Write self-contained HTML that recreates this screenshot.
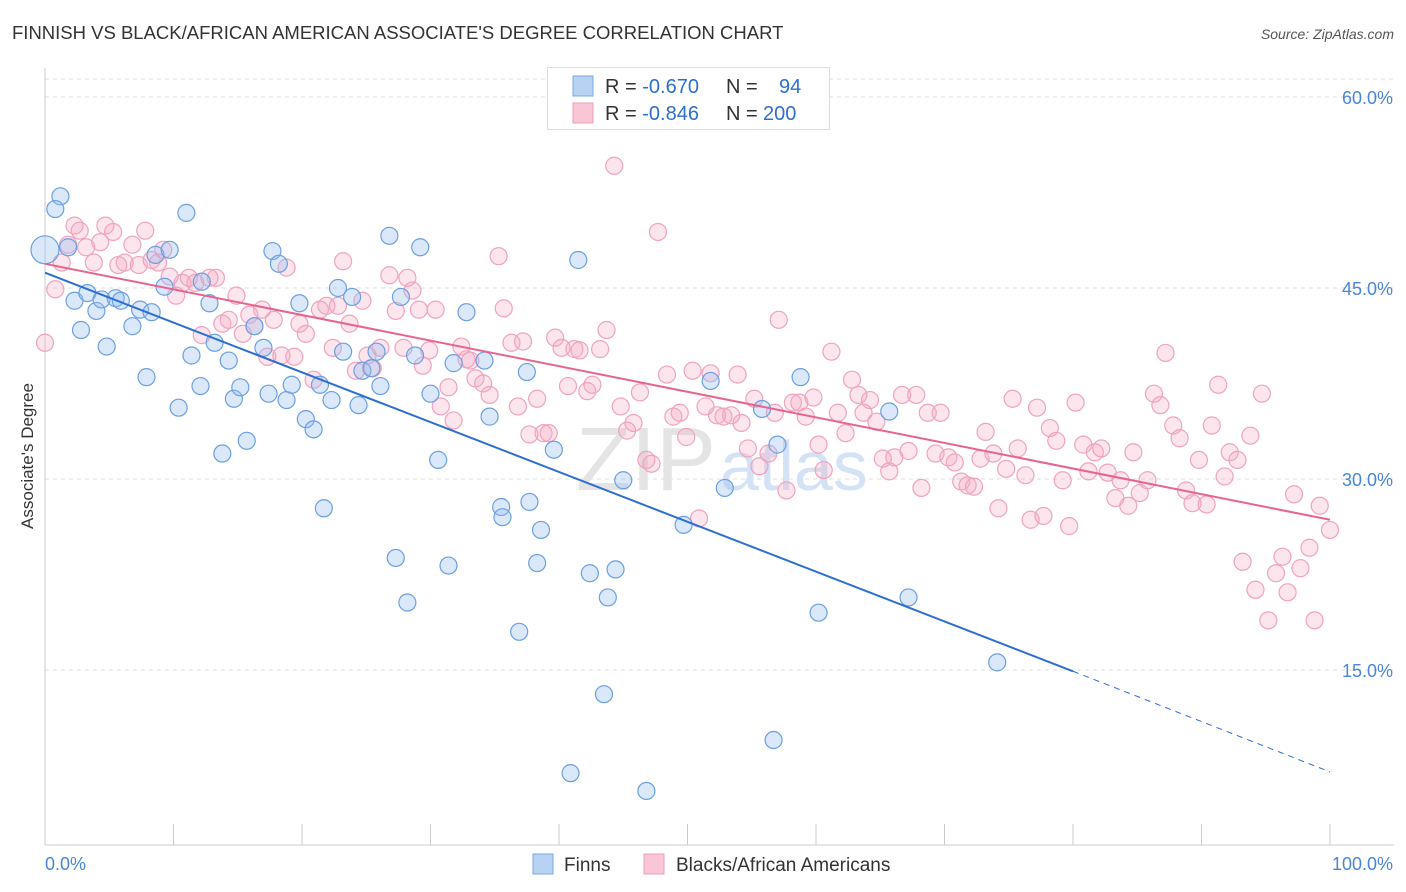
<!DOCTYPE html>
<html><head><meta charset="utf-8">
<style>
body{margin:0;background:#fff;font-family:"Liberation Sans",sans-serif;}
#wrap{position:relative;width:1406px;height:892px;overflow:hidden;}
svg text{font-family:"Liberation Sans",sans-serif;}
</style></head>
<body>
<div id="wrap">
<svg id="chart" width="1406" height="892" xmlns="http://www.w3.org/2000/svg">
<text x="12" y="39" font-size="18.5" fill="#333">FINNISH VS BLACK/AFRICAN AMERICAN ASSOCIATE'S DEGREE CORRELATION CHART</text>
<text x="1394" y="39" font-size="14" fill="#555" font-style="italic" text-anchor="end">Source: ZipAtlas.com</text>
<text x="33" y="456" font-size="17" fill="#333" text-anchor="middle" transform="rotate(-90 33 456)">Associate's Degree</text>
<g id="grid"></g>
<g id="axes"></g>
<text x="716" y="490" font-size="90" fill="#e4e4e4" text-anchor="end" font-family="Liberation Serif">ZIP</text>
<text x="720" y="490" font-size="70" fill="#d3e3f5">atlas</text>
<g id="pts"></g>
<g id="trends"></g>
<g>
<rect x="547.5" y="67.5" width="282" height="62" fill="#fff" stroke="#ddd"/>
<rect x="573" y="76" width="20" height="20" fill="#b7d2f3" stroke="#7aa8e6"/>
<rect x="573" y="103" width="20" height="20" fill="#f9c6d6" stroke="#ee9fbb"/>
<text x="605" y="93" font-size="20" fill="#333">R = <tspan fill="#2c6fd1">-0.670</tspan><tspan x="726">N = </tspan><tspan x="779" fill="#2c6fd1">94</tspan></text>
<text x="605" y="120" font-size="20" fill="#333">R = <tspan fill="#2c6fd1">-0.846</tspan><tspan x="726">N = </tspan><tspan x="763" fill="#2c6fd1">200</tspan></text>
</g>
<g>
<rect x="533" y="854" width="20" height="20" fill="#b7d2f3" stroke="#7aa8e6"/>
<text x="564" y="871" font-size="19" fill="#333">Finns</text>
<rect x="644" y="854" width="20" height="20" fill="#f9c6d6" stroke="#ee9fbb"/>
<text x="676" y="871" font-size="19" fill="#333">Blacks/African Americans</text>
</g>
</svg>
</div>
<script>
const yTicks=[15,30,45,60];
const yTickLabels=["15.0%","30.0%","45.0%","60.0%"];
const xLabels=["0.0%","100.0%"];
const finnsX=[0,1.2,0.8,1.8,2.3,2.8,3.3,4.0,4.4,4.8,5.5,5.9,6.8,7.4,7.9,8.3,8.6,9.3,9.7,10.4,11.0,11.4,12.1,12.2,12.8,13.2,13.8,14.3,14.7,15.2,15.7,16.3,17.0,17.4,17.7,18.2,18.8,19.2,19.8,20.3,20.9,21.4,21.7,22.3,22.8,23.2,23.9,24.4,24.7,25.4,25.8,26.1,26.8,27.3,27.7,28.2,28.8,29.2,30.0,30.6,31.4,31.8,32.8,34.2,34.6,35.5,35.6,36.9,37.5,37.7,38.3,38.6,39.6,40.9,41.5,42.4,43.5,43.8,44.4,45.0,46.8,49.7,51.8,52.9,55.8,56.7,57.0,58.8,60.2,65.7,67.2,74.1];
const finnsY=[48.0,52.2,51.2,48.2,44.0,41.7,44.6,43.2,44.1,40.4,44.2,44.0,42.0,43.3,38.0,43.1,47.6,45.1,48.0,35.6,50.9,39.7,37.3,45.5,43.8,40.7,32.0,39.3,36.3,37.2,33.0,42.0,40.3,36.7,47.9,46.9,36.2,37.4,43.8,34.7,33.9,37.4,27.7,36.2,45.0,40.0,44.3,35.8,38.5,38.7,40.0,37.3,49.1,23.8,44.3,20.3,39.7,48.2,36.7,31.5,23.2,39.1,43.1,39.3,34.9,27.8,27.0,18.0,38.4,28.2,23.4,26.0,32.3,6.9,47.2,22.6,13.1,20.7,22.9,29.9,5.5,26.4,37.7,29.3,35.5,9.5,32.7,38.0,19.5,35.3,20.7,15.6];
const blacksX=[0,0.8,1.3,1.8,2.3,2.7,3.2,3.8,4.3,4.7,5.3,5.7,6.2,6.8,7.3,7.8,8.3,8.8,9.2,9.7,10.2,10.7,11.2,11.7,12.2,12.8,13.3,13.8,14.3,14.9,15.4,15.9,16.3,16.9,17.3,17.8,18.4,18.8,19.4,19.8,20.3,20.9,21.4,21.9,22.4,22.8,23.2,23.7,24.2,24.7,25.1,25.5,26.1,26.8,27.3,27.9,28.2,28.6,29.1,29.4,29.9,30.4,30.8,31.4,31.8,32.4,32.8,33.1,33.5,34.1,34.6,35.3,35.7,36.3,36.8,37.2,37.7,38.3,38.8,39.2,39.7,40.2,40.7,41.2,41.6,42.2,42.6,43.2,43.7,44.3,44.8,45.3,45.8,46.3,46.8,47.2,47.7,48.4,48.9,49.4,49.9,50.4,50.9,51.4,51.8,52.3,52.8,53.4,53.9,54.2,54.7,55.2,55.6,56.3,56.8,57.1,57.7,58.2,58.7,59.2,59.8,60.2,60.6,61.2,61.7,62.3,62.8,63.3,63.7,64.2,64.7,65.2,65.7,66.1,66.7,67.2,67.8,68.2,68.7,69.3,69.7,70.3,70.8,71.3,71.8,72.3,72.8,73.2,73.8,74.2,74.8,75.3,75.7,76.3,76.7,77.2,77.7,78.2,78.7,79.2,79.7,80.2,80.8,81.2,81.7,82.2,82.7,83.3,83.7,84.3,84.7,85.2,85.8,86.3,86.8,87.2,87.8,88.3,88.8,89.3,89.8,90.4,90.8,91.3,91.8,92.2,92.8,93.2,93.8,94.2,94.7,95.2,95.8,96.3,96.7,97.2,97.7,98.4,98.8,99.2,100];
const blacksY=[40.7,44.9,47.0,48.4,49.9,49.5,48.2,47.0,48.6,49.9,49.4,46.8,47.0,48.4,46.8,49.5,47.2,47.0,48.0,45.9,44.4,45.4,45.8,45.4,41.3,45.8,45.8,42.2,42.5,44.4,41.4,42.9,42.0,43.3,39.6,42.5,39.7,46.6,39.6,42.2,41.4,37.8,43.3,43.6,40.3,43.6,47.1,42.2,38.5,44.0,39.7,38.7,40.3,46.0,43.2,40.3,45.8,44.8,43.3,38.9,40.1,43.3,35.7,37.2,34.6,40.4,39.4,39.3,37.9,37.5,36.6,47.5,43.4,40.7,35.7,40.8,33.5,36.3,33.6,33.6,41.1,40.3,37.3,40.2,40.1,36.9,37.4,40.2,41.7,54.6,35.7,33.8,34.4,36.8,31.5,31.2,49.4,38.2,34.9,35.2,33.3,38.5,26.9,35.7,38.3,35.0,34.9,35.0,38.2,34.4,32.4,36.3,31.0,32.0,35.2,42.5,29.1,36.0,36.0,34.9,36.4,32.7,30.7,40.0,35.2,33.6,37.8,36.6,35.2,36.2,34.5,31.6,30.6,31.7,36.6,32.2,36.6,29.3,35.2,32.0,35.2,31.7,31.3,29.8,29.5,29.4,31.6,33.7,32.0,27.7,30.8,36.3,32.4,30.3,26.8,35.6,27.1,34.0,33.0,29.9,26.3,36.0,32.7,30.6,32.1,32.4,30.5,28.5,29.9,27.9,32.1,28.9,29.9,36.7,35.8,39.9,34.2,33.2,29.1,28.1,31.5,28.0,34.2,37.4,30.2,32.1,31.5,23.5,33.4,21.3,36.7,18.9,22.6,23.9,21.1,28.8,23.0,24.6,18.9,27.9,26.0];
const finnsTrend=[46.2,14.9,7.0];
const finnsTrendX=[0,80,100];
const blacksTrend=[46.9,26.8];
const blacksTrendX=[0,100];

const NS="http://www.w3.org/2000/svg";
const X0=45,X1=1330,YB=861,YPX=191/15;
function xs(v){return X0+(X1-X0)*v/100;}
function ys(v){return YB-v*YPX;}
function mk(tag,attrs,parent){const e=document.createElementNS(NS,tag);for(const k in attrs)e.setAttribute(k,attrs[k]);parent.appendChild(e);return e;}

const grid=document.getElementById('grid');
mk('line',{x1:45,x2:1394,y1:79,y2:79,stroke:'#ddd','stroke-dasharray':'4,4'},grid);
yTicks.forEach((t,i)=>{
  const l=mk('line',{x1:45,x2:1394,y1:ys(t),y2:ys(t),stroke:'#ddd','stroke-dasharray':'4,4'},grid);
  
  
  const tx=mk('text',{x:1393,y:ys(t)+7,'font-size':18,fill:'#4a86d8','text-anchor':'end'},grid);
  tx.textContent=yTickLabels[i];
  
  
});
const axes=document.getElementById('axes');
mk('line',{x1:45,x2:45,y1:68,y2:845,stroke:'#ccc'},axes);
mk('line',{x1:45,x2:1394,y1:845,y2:845,stroke:'#ccc'},axes);
for(let i=0;i<=10;i++){
  const t=mk('line',{x1:xs(i*10),x2:xs(i*10),y1:824,y2:845,stroke:'#ccc'},axes);
  
  
}
const xl0=mk('text',{x:45,y:870,'font-size':18,fill:'#4a86d8'},axes);xl0.textContent=xLabels[0];


const xl1=mk('text',{x:1393,y:870,'font-size':18,fill:'#4a86d8','text-anchor':'end'},axes);xl1.textContent=xLabels[1];



const pts=document.getElementById('pts');
blacksX.forEach((x,i)=>{
  const c=mk('circle',{cx:xs(x),cy:ys(blacksY[i]),r:8.5,fill:'rgba(246,170,196,0.3)',stroke:'#f0a3be','stroke-width':1.2},pts);
  
  
});
finnsX.forEach((x,i)=>{
  const c=mk('circle',{cx:xs(x),cy:ys(finnsY[i]),r:i===0?14:8.5,fill:'rgba(150,190,240,0.35)',stroke:'#6c9fe2','stroke-width':1.2},pts);
  
  
});
const tr=document.getElementById('trends');
const l1=mk('line',{x1:xs(finnsTrendX[0]),y1:ys(finnsTrend[0]),x2:xs(finnsTrendX[1]),y2:ys(finnsTrend[1]),stroke:'#2c6fd1','stroke-width':2},tr);


const l2=mk('line',{x1:xs(finnsTrendX[1]),y1:ys(finnsTrend[1]),x2:xs(finnsTrendX[2]),y2:ys(finnsTrend[2]),stroke:'#2c6fd1','stroke-width':1,'stroke-dasharray':'6,5'},tr);


const l3=mk('line',{x1:xs(blacksTrendX[0]),y1:ys(blacksTrend[0]),x2:xs(blacksTrendX[1]),y2:ys(blacksTrend[1]),stroke:'#e8638f','stroke-width':2},tr);


</script>
</body></html>
